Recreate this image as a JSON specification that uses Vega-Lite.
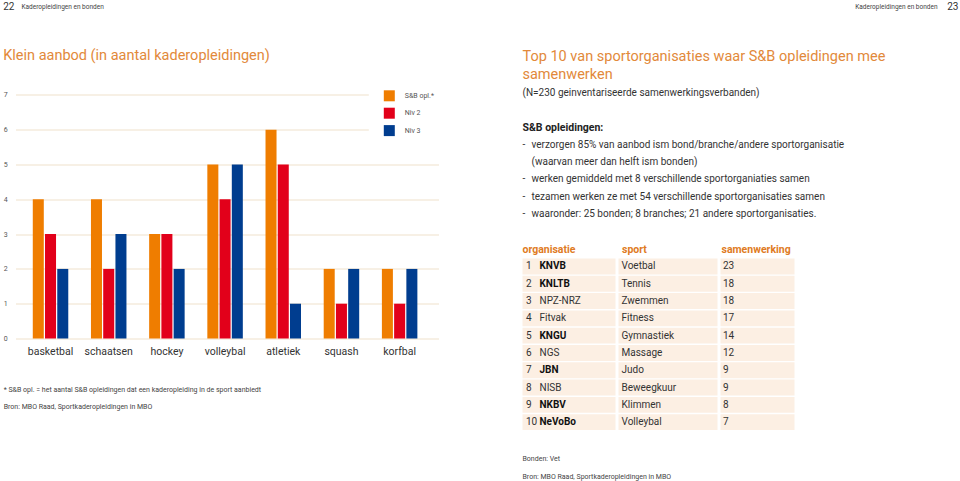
{
  "$schema": "https://vega.github.io/schema/vega-lite/v6.json",
  "background": "white",
  "padding": {"left": 2.5, "top": 0.5, "right": 0, "bottom": 0},
  "config": {"font": "Roboto", "view": {"stroke": null}},
  "datasets": {
    "top10": [
      {"rank": 1, "org": "KNVB", "bond": true, "sport": "Voetbal", "n": 23},
      {"rank": 2, "org": "KNLTB", "bond": true, "sport": "Tennis", "n": 18},
      {"rank": 3, "org": "NPZ-NRZ", "bond": false, "sport": "Zwemmen", "n": 18},
      {"rank": 4, "org": "Fitvak", "bond": false, "sport": "Fitness", "n": 17},
      {"rank": 5, "org": "KNGU", "bond": true, "sport": "Gymnastiek", "n": 14},
      {"rank": 6, "org": "NGS", "bond": false, "sport": "Massage", "n": 12},
      {"rank": 7, "org": "JBN", "bond": true, "sport": "Judo", "n": 9},
      {"rank": 8, "org": "NISB", "bond": false, "sport": "Beweegkuur", "n": 9},
      {"rank": 9, "org": "NKBV", "bond": true, "sport": "Klimmen", "n": 8},
      {"rank": 10, "org": "NeVoBo", "bond": true, "sport": "Volleybal", "n": 7}
    ]
  },
  "bounds": "flush",
  "spacing": 72,
  "resolve": {"scale": {"color": "independent"}, "legend": {"color": "independent"}},
  "vconcat": [
    {
      "width": 943,
      "height": 12,
      "data": {"values": [
        {"side": "L", "num": "22", "label": "Kaderopleidingen en bonden"},
        {"side": "R", "num": "23", "label": "Kaderopleidingen en bonden"}
      ]},
      "layer": [
        {"transform": [{"filter": "datum.side === 'L'"}],
         "mark": {"type": "text", "align": "left", "baseline": "middle", "fontSize": 10, "color": "#333", "dx": -12.3},
         "encoding": {"x": {"datum": 0, "type": "quantitative", "scale": {"domain": [0, 1]}, "axis": null}, "text": {"field": "num"}}},
        {"transform": [{"filter": "datum.side === 'L'"}],
         "mark": {"type": "text", "align": "left", "baseline": "middle", "fontSize": 6.5, "color": "#444", "dx": 6},
         "encoding": {"x": {"datum": 0, "type": "quantitative", "axis": null}, "text": {"field": "label"}}},
        {"transform": [{"filter": "datum.side === 'R'"}],
         "mark": {"type": "text", "align": "right", "baseline": "middle", "fontSize": 10, "color": "#333"},
         "encoding": {"x": {"datum": 1, "type": "quantitative", "axis": null}, "text": {"field": "num"}}},
        {"transform": [{"filter": "datum.side === 'R'"}],
         "mark": {"type": "text", "align": "right", "baseline": "middle", "fontSize": 6.5, "color": "#444", "dx": -21},
         "encoding": {"x": {"datum": 1, "type": "quantitative", "axis": null}, "text": {"field": "label"}}}
      ]
    },
    {
      "bounds": "flush",
      "spacing": 84,
      "resolve": {"scale": {"color": "independent"}, "legend": {"color": "independent"}},
      "hconcat": [
        {
          "width": 423,
          "height": 254,
          "title": {"text": "Klein aanbod (in aantal kaderopleidingen)", "anchor": "start", "frame": "group", "dx": -12.3, "fontSize": 14.5, "fontWeight": "normal", "color": "#E2893A", "baseline": "alphabetic", "offset": 0.8},
          "data": {"values": [
            {"sport": "basketbal", "reeks": "S&B opl.*", "aantal": 4},
            {"sport": "basketbal", "reeks": "Niv 2", "aantal": 3},
            {"sport": "basketbal", "reeks": "Niv 3", "aantal": 2},
            {"sport": "schaatsen", "reeks": "S&B opl.*", "aantal": 4},
            {"sport": "schaatsen", "reeks": "Niv 2", "aantal": 2},
            {"sport": "schaatsen", "reeks": "Niv 3", "aantal": 3},
            {"sport": "hockey", "reeks": "S&B opl.*", "aantal": 3},
            {"sport": "hockey", "reeks": "Niv 2", "aantal": 3},
            {"sport": "hockey", "reeks": "Niv 3", "aantal": 2},
            {"sport": "volleybal", "reeks": "S&B opl.*", "aantal": 5},
            {"sport": "volleybal", "reeks": "Niv 2", "aantal": 4},
            {"sport": "volleybal", "reeks": "Niv 3", "aantal": 5},
            {"sport": "atletiek", "reeks": "S&B opl.*", "aantal": 6},
            {"sport": "atletiek", "reeks": "Niv 2", "aantal": 5},
            {"sport": "atletiek", "reeks": "Niv 3", "aantal": 1},
            {"sport": "squash", "reeks": "S&B opl.*", "aantal": 2},
            {"sport": "squash", "reeks": "Niv 2", "aantal": 1},
            {"sport": "squash", "reeks": "Niv 3", "aantal": 2},
            {"sport": "korfbal", "reeks": "S&B opl.*", "aantal": 2},
            {"sport": "korfbal", "reeks": "Niv 2", "aantal": 1},
            {"sport": "korfbal", "reeks": "Niv 3", "aantal": 2}
          ]},
          "mark": {"type": "bar"},
          "encoding": {
            "x": {
              "field": "sport", "type": "nominal",
              "sort": ["basketbal", "schaatsen", "hockey", "volleybal", "atletiek", "squash", "korfbal"],
              "scale": {"paddingInner": 0.39, "paddingOuter": 0.33, "align": 0.45},
              "axis": {
                "title": ["* S&B opl. = het aantal S&B opleidingen dat een kaderopleiding in de sport aanbiedt", "Bron: MBO Raad, Sportkaderopleidingen in MBO"],
                "titleX": -12.3, "titleY": 52.5, "titleAlign": "left", "titleAnchor": "start", "titleBaseline": "alphabetic",
                "titleFontSize": 7, "titleFontWeight": "normal", "titleColor": "#444", "titleLineHeight": 17.5,
                "labelAngle": 0, "labelFontSize": 10.5, "labelColor": "#333", "labelPadding": 8,
                "domain": false, "ticks": false, "tickSize": 0
              }
            },
            "xOffset": {"field": "reeks", "type": "nominal", "sort": ["S&B opl.*", "Niv 2", "Niv 3"], "scale": {"paddingInner": 0.1, "paddingOuter": 0}},
            "y": {
              "field": "aantal", "type": "quantitative",
              "scale": {"domain": [0, 7.3], "nice": false},
              "axis": {
                "values": [0, 1, 2, 3, 4, 5, 6, 7], "title": null, "domain": false, "ticks": false, "tickSize": 0,
                "labelAlign": "left", "labelPadding": 12.3, "labelFontSize": 7, "labelColor": "#555", "labelBaseline": "middle",
                "gridColor": "#EFE2CC", "gridWidth": 1.2
              }
            },
            "color": {
              "field": "reeks", "type": "nominal",
              "scale": {"domain": ["S&B opl.*", "Niv 2", "Niv 3"], "range": ["#EF7D00", "#E2001A", "#003D8F"]},
              "legend": {
                "title": null, "orient": "none", "legendX": 353.3, "legendY": -9.2,
                "fillColor": "white", "padding": 15, "symbolType": "square", "symbolSize": 121,
                "symbolStrokeWidth": 0, "symbolOpacity": 1, "labelFontSize": 7, "labelColor": "#555",
                "labelOffset": 10, "rowPadding": 6.4
              }
            }
          }
        },
        {
          "bounds": "flush",
          "spacing": 35.3,
          "vconcat": [
            {
              "width": 436,
              "height": 138,
              "title": {"text": ["Top 10 van sportorganisaties waar S&B opleidingen mee", "samenwerken"], "anchor": "start", "frame": "group", "fontSize": 14.5, "fontWeight": "normal", "color": "#E2893A", "lineHeight": 18, "baseline": "bottom", "offset": -12},
              "data": {"values": [
                {"line": 1, "kind": "sub", "text": "(N=230 geinventariseerde samenwerkingsverbanden)"},
                {"line": 3, "kind": "head", "text": "S&B opleidingen:"},
                {"line": 4, "kind": "dash", "text": "verzorgen 85% van aanbod ism bond/branche/andere sportorganisatie"},
                {"line": 5, "kind": "cont", "text": "(waarvan meer dan helft ism bonden)"},
                {"line": 6, "kind": "dash", "text": "werken gemiddeld met 8 verschillende sportorganiaties samen"},
                {"line": 7, "kind": "dash", "text": "tezamen werken ze met 54 verschillende sportorganisaties samen"},
                {"line": 8, "kind": "dash", "text": "waaronder: 25 bonden; 8 branches; 21 andere sportorganisaties."}
              ]},
              "encoding": {
                "y": {"field": "line", "type": "ordinal", "axis": null, "scale": {"type": "point", "domain": [1, 2, 3, 4, 5, 6, 7, 8], "padding": 0.5}},
                "x": {"datum": 0, "type": "quantitative", "scale": {"domain": [0, 1]}, "axis": null}
              },
              "layer": [
                {"transform": [{"filter": "datum.kind === 'sub'"}],
                 "mark": {"type": "text", "align": "left", "baseline": "middle", "fontSize": 10, "color": "#333"},
                 "encoding": {"text": {"field": "text"}}},
                {"transform": [{"filter": "datum.kind === 'head'"}],
                 "mark": {"type": "text", "align": "left", "baseline": "middle", "fontSize": 10.5, "fontWeight": "bold", "color": "#222"},
                 "encoding": {"text": {"field": "text"}}},
                {"transform": [{"filter": "datum.kind === 'dash'"}],
                 "mark": {"type": "text", "align": "left", "baseline": "middle", "fontSize": 10, "color": "#333", "text": "-"}},
                {"transform": [{"filter": "datum.kind === 'dash' || datum.kind === 'cont'"}],
                 "mark": {"type": "text", "align": "left", "baseline": "middle", "fontSize": 10, "color": "#333", "dx": 9},
                 "encoding": {"text": {"field": "text"}}}
              ]
            },
            {
              "bounds": "flush",
              "spacing": 3,
              "title": {"text": ["Bonden: Vet", "Bron: MBO Raad, Sportkaderopleidingen in MBO"], "orient": "bottom", "anchor": "start", "frame": "group", "fontSize": 7, "fontWeight": "normal", "color": "#444", "lineHeight": 18, "baseline": "top", "offset": 24.5},
              "hconcat": [
                {
                  "width": 93, "height": 173,
                  "title": {"text": "organisatie", "anchor": "start", "frame": "group", "fontSize": 10.5, "fontWeight": "bold", "color": "#E07B24", "baseline": "bottom", "offset": -8},
                  "data": {"name": "top10"},
                  "encoding": {
                    "y": {"field": "rank", "type": "ordinal", "axis": null, "scale": {"paddingInner": 0.08, "paddingOuter": 0.04}},
                    "x": {"datum": 0, "type": "quantitative", "scale": {"domain": [0, 1]}, "axis": null}
                  },
                  "layer": [
                    {"mark": {"type": "rect", "color": "#FCEFE3"}, "encoding": {"x": null}},
                    {"mark": {"type": "text", "align": "left", "baseline": "middle", "fontSize": 10, "color": "#333", "dx": 3.5},
                     "encoding": {"text": {"field": "rank"}}},
                    {"transform": [{"filter": "datum.bond"}],
                     "mark": {"type": "text", "align": "left", "baseline": "middle", "fontSize": 10, "fontWeight": "bold", "color": "#111", "dx": 17},
                     "encoding": {"text": {"field": "org"}}},
                    {"transform": [{"filter": "!datum.bond"}],
                     "mark": {"type": "text", "align": "left", "baseline": "middle", "fontSize": 10, "color": "#333", "dx": 17},
                     "encoding": {"text": {"field": "org"}}}
                  ]
                },
                {
                  "width": 99, "height": 173,
                  "title": {"text": "sport", "anchor": "start", "frame": "group", "dx": 3.5, "fontSize": 10.5, "fontWeight": "bold", "color": "#E07B24", "baseline": "bottom", "offset": -8},
                  "data": {"name": "top10"},
                  "encoding": {
                    "y": {"field": "rank", "type": "ordinal", "axis": null, "scale": {"paddingInner": 0.08, "paddingOuter": 0.04}},
                    "x": {"datum": 0, "type": "quantitative", "scale": {"domain": [0, 1]}, "axis": null}
                  },
                  "layer": [
                    {"mark": {"type": "rect", "color": "#FCEFE3"}, "encoding": {"x": null}},
                    {"mark": {"type": "text", "align": "left", "baseline": "middle", "fontSize": 10, "color": "#333", "dx": 3},
                     "encoding": {"text": {"field": "sport"}}}
                  ]
                },
                {
                  "width": 74, "height": 173,
                  "title": {"text": "samenwerking", "anchor": "start", "frame": "group", "dx": 1, "fontSize": 10.5, "fontWeight": "bold", "color": "#E07B24", "baseline": "bottom", "offset": -8},
                  "data": {"name": "top10"},
                  "encoding": {
                    "y": {"field": "rank", "type": "ordinal", "axis": null, "scale": {"paddingInner": 0.08, "paddingOuter": 0.04}},
                    "x": {"datum": 0, "type": "quantitative", "scale": {"domain": [0, 1]}, "axis": null}
                  },
                  "layer": [
                    {"mark": {"type": "rect", "color": "#FCEFE3"}, "encoding": {"x": null}},
                    {"mark": {"type": "text", "align": "left", "baseline": "middle", "fontSize": 10, "color": "#333", "dx": 2.5},
                     "encoding": {"text": {"field": "n"}}}
                  ]
                }
              ]
            }
          ]
        }
      ]
    }
  ]
}
